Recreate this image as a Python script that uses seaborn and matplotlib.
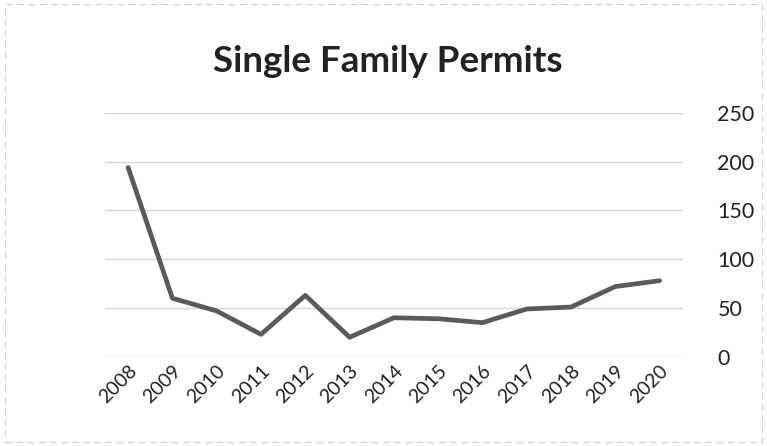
import matplotlib
matplotlib.use("Agg")
import matplotlib.pyplot as plt
import seaborn as sns
import pandas as pd

years = ["2008", "2009", "2010", "2011", "2012", "2013", "2014",
         "2015", "2016", "2017", "2018", "2019", "2020"]
permits = [194, 60, 47, 23, 63, 20, 40, 39, 35, 49, 51, 72, 78]
yticks = [0, 50, 100, 150, 200, 250]
title = "Single Family Permits"

sns.set_theme(style="white")
plt.rcParams["font.family"] = ["Lato", "DejaVu Sans"]

df = pd.DataFrame({"year": years, "permits": permits})

fig = plt.figure(figsize=(7.67, 4.46), dpi=100)
ax = fig.add_axes([0.137, 0.2, 0.753, 0.547])

sns.lineplot(data=df, x="year", y="permits", ax=ax, color="#5a5a5a",
             linewidth=3.4, sort=False)

ax.set_ylim(0, 250)
ax.set_xlim(-0.52, len(years) - 1 + 0.52)
ax.set_yticks(yticks)
ax.yaxis.tick_right()
ax.tick_params(axis="y", labelsize=15.5, colors="#222222", length=0, pad=25)
ax.tick_params(axis="x", labelsize=14, colors="#222222", length=0, pad=4)
for lab in ax.get_xticklabels():
    lab.set_rotation(45)
    lab.set_ha("right")
    lab.set_rotation_mode("anchor")
ax.grid(axis="y", color="#d6d6d6", linewidth=1)
ax.set_axisbelow(True)
for s in ax.spines.values():
    s.set_visible(False)
ax.set_xlabel("")
ax.set_ylabel("")

fig.text(0.506, 0.862, title, ha="center", va="center", fontsize=26.5,
         fontweight="bold", color="#222222")

border = plt.Rectangle((0.006, 0.01), 0.988, 0.98, transform=fig.transFigure,
                       fill=False, edgecolor="#cfcfcf", linewidth=0.8,
                       linestyle=(0, (6, 4)))
fig.add_artist(border)

fig.savefig("out.png", dpi=100)
